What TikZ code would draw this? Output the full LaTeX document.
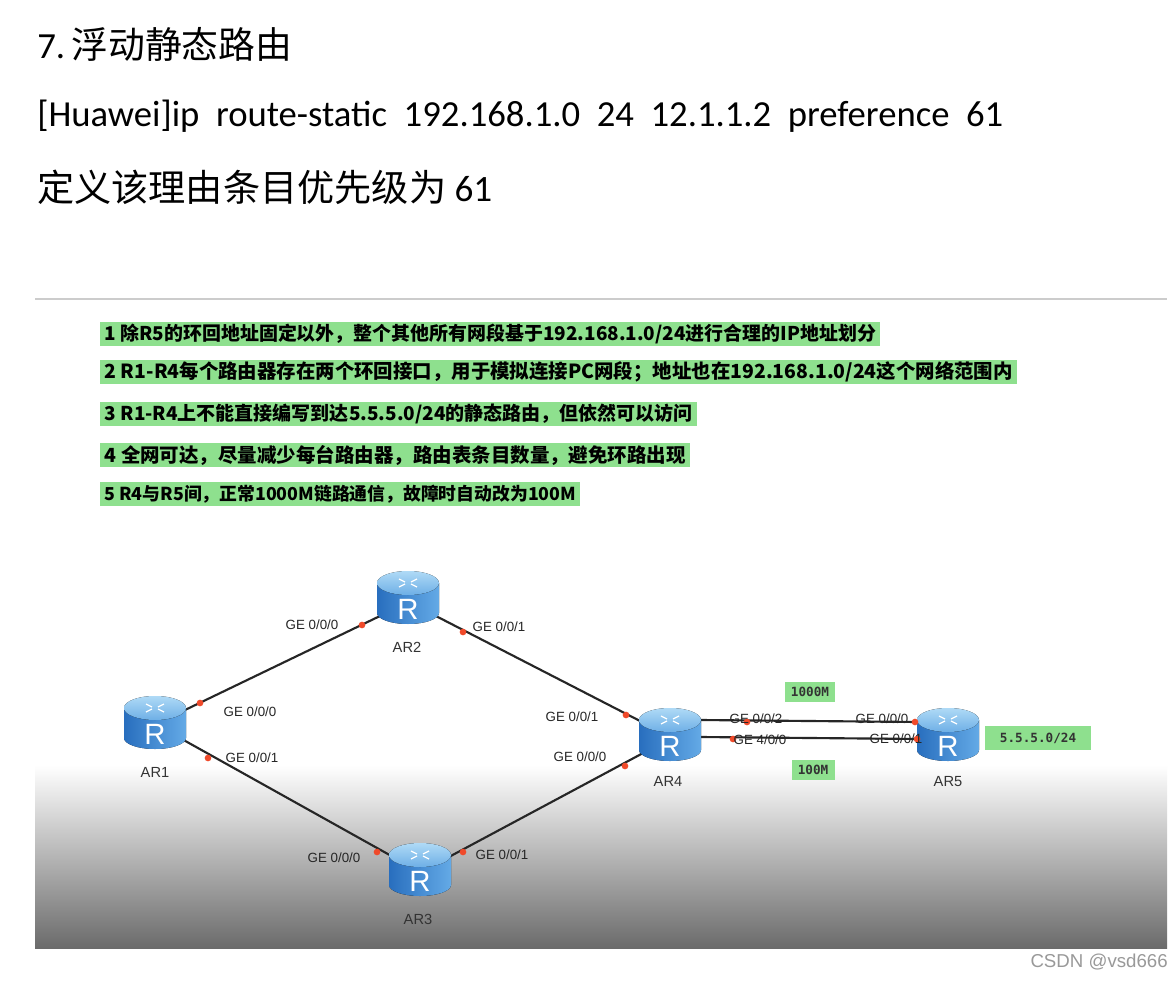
\documentclass[tikz,border=0pt]{standalone}
\usepackage{fontspec}
\setmainfont{Carlito}
\newfontfamily\cjk{Noto Sans CJK SC}
\newfontfamily\arl{Liberation Sans}
\newfontfamily\mono{DejaVu Sans Mono}
\usetikzlibrary{shapes.geometric}
\definecolor{hl}{HTML}{8EE08E}
\definecolor{dotc}{HTML}{F04A2A}
\newcommand{\fitw}[2]{\resizebox{#1\dimexpr0.75pt\relax}{!}{#2}}
\tikzset{
 lbl/.style={font=\arl\fontsize{10}{12}\selectfont, text=black!85, inner sep=0pt},
 arl/.style={font=\arl\fontsize{11}{13}\selectfont, text=black!80, inner sep=0pt},
 link/.style={line width=1.6pt, black!85},
 pdot/.style={circle, fill=dotc, minimum size=5pt, inner sep=0pt},
 hbox/.style={fill=hl, inner sep=0pt, anchor=west},
 gbox/.style={fill=hl, inner sep=0pt, font=\mono\bfseries\fontsize{9.5}{10}\selectfont, text=black!80},
 router/.pic={
  \fill[left color={rgb,255:red,40;green,110;blue,190}, right color={rgb,255:red,100;green,170;blue,230}]
    (-31,-14) -- (-31,16) arc[start angle=180,end angle=0,x radius=31,y radius=11] -- (31,-14) -- cycle;
  \fill[top color={rgb,255:red,175;green,218;blue,246}, bottom color={rgb,255:red,110;green,175;blue,230}] (0,-14) ellipse[x radius=31,y radius=12];
  \node[font=\arl\fontsize{22}{22}\selectfont, text=white] at (0,12) {R};
  \draw[white, line width=0.9pt] (-9,-18)--(-3,-15) (9,-18)--(3,-15) (-9,-10)--(-3,-13) (9,-10)--(3,-13);
 }
}
\begin{document}
\begin{tikzpicture}[x=0.75pt,y=-0.75pt]
\useasboundingbox (0,0) rectangle (1172,981);
\fill[white] (0,0) rectangle (1172,981);
% header text
\node[anchor=west, inner sep=0pt] (t1) at (37,44) {\fitw{255}{\fontsize{26}{30}\selectfont 7.\,{\cjk 浮动静态路由}}};
\node[anchor=west, inner sep=0pt] (t2) at (37,116) {\fitw{966}{\fontsize{26}{30}\selectfont [Huawei]ip\ \ route-static\ \ 192.168.1.0\ \ 24\ \ 12.1.1.2\ \ preference\ \ 61}};
\node[anchor=west, inner sep=0pt] (t3) at (37,187) {\fitw{455}{\fontsize{26}{30}\selectfont {\cjk 定义该理由条目优先级为} 61}};
% screenshot region
\draw[black!20, line width=0.8pt] (35,299) -- (1167,299);
\shade[top color=white, bottom color=black!58] (35,765) rectangle (1167,948);
% green lines
\node[hbox, minimum height=24*0.75pt] (h1) at (100,334) {\fitw{780}{\cjk\bfseries\small \ 1 除R5的环回地址固定以外，整个其他所有网段基于192.168.1.0/24进行合理的IP地址划分\ }};
\node[hbox, minimum height=24*0.75pt] (h2) at (100,372) {\fitw{917}{\cjk\bfseries\small \ 2 R1-R4每个路由器存在两个环回接口，用于模拟连接PC网段；地址也在192.168.1.0/24这个网络范围内\ }};
\node[hbox, minimum height=24*0.75pt] (h3) at (100,414) {\fitw{597}{\cjk\bfseries\small \ 3 R1-R4上不能直接编写到达5.5.5.0/24的静态路由，但依然可以访问\ }};
\node[hbox, minimum height=24*0.75pt] (h4) at (100,455) {\fitw{590}{\cjk\bfseries\small \ 4 全网可达，尽量减少每台路由器，路由表条目数量，避免环路出现\ }};
\node[hbox, minimum height=24*0.75pt] (h5) at (100,494) {\fitw{480}{\cjk\bfseries\small \ 5 R4与R5间，正常1000M链路通信，故障时自动改为100M\ }};
% routers anchors
\coordinate (r1) at (155,722);
\coordinate (r2) at (408,597);
\coordinate (r3) at (420,869);
\coordinate (r4) at (670,734);
\coordinate (r5) at (948,734);
% links
\draw[link] (185,710) -- (380,616);
\draw[link] (432,614) -- (642,722);
\draw[link] (180,738) -- (395,858);
\draw[link] (447,858) -- (645,752);
\draw[link] (700,720) -- (918,722);
\draw[link] (700,737) -- (920,739);
% routers
\pic at (r1) {router};
\pic at (r2) {router};
\pic at (r3) {router};
\pic at (r4) {router};
\pic at (r5) {router};
\node[arl] (n1) at (155,772) {AR1};
\node[arl] (n2) at (407,647) {AR2};
\node[arl] (n3) at (418,919) {AR3};
\node[arl] (n4) at (668,781) {AR4};
\node[arl] (n5) at (948,782) {AR5};
% dots
\foreach \p in {(200,703),(362,625),(463,632),(626,715),(208,758),(377,852),(463,852),(625,766),(747,722),(915,722),(733,739),(917,739)}
  \node[pdot] at \p {};
% port labels
\node[lbl] (p1) at (312,625) {GE 0/0/0};
\node[lbl] (p2) at (250,712) {GE 0/0/0};
\node[lbl] (p3) at (252,758) {GE 0/0/1};
\node[lbl] (p4) at (499,627) {GE 0/0/1};
\node[lbl] (p5) at (572,717) {GE 0/0/1};
\node[lbl] (p6) at (580,757) {GE 0/0/0};
\node[lbl] (p7) at (334,858) {GE 0/0/0};
\node[lbl] (p8) at (502,855) {GE 0/0/1};
\node[lbl] (p9) at (756,719) {GE 0/0/2};
\node[lbl] (p10) at (760,740) {GE 4/0/0};
\node[lbl] (p11) at (882,719) {GE 0/0/0};
\node[lbl] (p12) at (896,739) {GE 0/0/1};
% green labels
\node[gbox, minimum width=50*0.75pt, minimum height=20*0.75pt] (g1) at (810,692) {1000M};
\node[gbox, minimum width=43*0.75pt, minimum height=20*0.75pt] (g2) at (813,770) {100M};
\node[gbox, minimum width=106*0.75pt, minimum height=24*0.75pt] (g3) at (1038,738) {5.5.5.0/24};
% watermark
\node[font=\arl\fontsize{14}{16}\selectfont, text=black!40, anchor=east, inner sep=0pt] (wm) at (1168,962) {CSDN @vsd666};
\end{tikzpicture}
\end{document}
